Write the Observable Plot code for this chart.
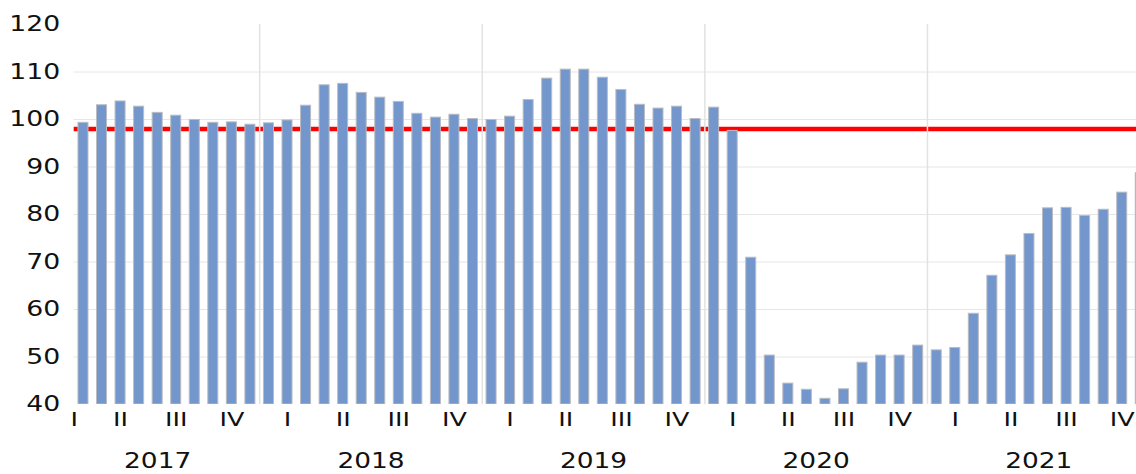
<!DOCTYPE html>
<html><head><meta charset="utf-8">
<script src="https://cdn.jsdelivr.net/npm/d3@7"></script>
<script src="https://cdn.jsdelivr.net/npm/@observablehq/plot@0.6"></script>
<style>
html,body{margin:0;padding:0;background:#fff;overflow:hidden}
</style></head><body><div id="chart"></div>
<script>
// Monthly index, categories from Feb 2017 (month index 1, Jan 2017 = 0) to Dec 2021
const years = [2017, 2018, 2019, 2020, 2021];
const quarterNames = ["I", "II", "III", "IV"];
const firstMonthIndex = 1;
const values2017 = [null, 99.3, 103.0, 103.8, 102.7, 101.4, 100.8, 99.9, 99.3, 99.4, 98.9];
const values2018 = [99.2, 99.8, 102.9, 107.2, 107.5, 105.6, 104.6, 103.7, 101.2, 100.4, 101.0, 100.1];
const values2019 = [99.9, 100.6, 104.1, 108.6, 110.5, 110.5, 108.8, 106.2, 103.1, 102.3, 102.7, 100.1];
const values2020 = [102.5, 97.6, 70.9, 50.3, 44.4, 43.1, 41.2, 43.2, 48.8, 50.3, 50.3, 52.4];
const values2021 = [51.4, 51.9, 59.1, 67.1, 71.4, 75.9, 81.3, 81.4, 79.7, 81.0, 84.6, 88.7];
const referenceLevel = 98;
const yTicks = [40, 50, 60, 70, 80, 90, 100, 110, 120];
const gridLevels = [50, 60, 70, 80, 90, 100, 110];

const values = [...values2017, ...values2018, ...values2019, ...values2020, ...values2021];
const rows = values.map((v, k) => {
  const i = k + firstMonthIndex;
  return {i, v, year: years[0] + Math.floor(i / 12), q: Math.floor((i % 12) / 3)};
});
const quarterRows = d3.rollups(rows, g => d3.mean(g, d => d.i), d => d.year, d => d.q)
  .flatMap(([year, qs]) => qs.map(([q, pos]) => ({pos, label: quarterNames[q]})));
const yearRows = d3.rollups(rows, g => d3.mean(g, d => d.i), d => d.year)
  .map(([year, pos]) => ({pos, label: String(year)}));
const yearBreaks = years.slice(1).map(y => (y - years[0]) * 12 - 0.5);

const chart = Plot.plot({
  width: 1136,
  height: 474,
  marginTop: 24,
  marginBottom: 70,
  marginLeft: 73.7,
  marginRight: 0,
  style: {fontFamily: "DejaVu Sans", fontSize: "21px", color: "#111", background: "#fff"},
  x: {type: "linear", domain: [1.5, 58.77], axis: null},
  y: {domain: [40, 120], ticks: yTicks, tickSize: 0, tickPadding: 14, label: null},
  marks: [
    Plot.ruleY(gridLevels, {stroke: "#e6e6e6", strokeWidth: 1}),
    Plot.ruleY([referenceLevel], {stroke: "#ff0000", strokeWidth: 4.5}),
    Plot.ruleX(yearBreaks, {y1: 40, y2: 120, stroke: "#e2e2e2", strokeWidth: 1.5}),
    Plot.rect(rows.filter(d => d.v != null), {
      x1: d => d.i - 0.27, x2: d => d.i + 0.27, y1: 40, y2: "v",
      fill: "#7396cc", stroke: "#b9bcc2", strokeWidth: 1, clip: true
    }),
    Plot.text(quarterRows, {x: "pos", text: "label", frameAnchor: "bottom", dy: 21, fontSize: 20, fill: "#111"}),
    Plot.text(yearRows, {x: "pos", text: "label", frameAnchor: "bottom", dy: 63, fontSize: 22, fill: "#111"})
  ]
});
document.getElementById("chart").appendChild(chart);

// widen glyphs to match the reference's broad lettering
chart.querySelectorAll("text").forEach(t => {
  const len = t.getComputedTextLength();
  if (len > 0) {
    const f = /^\d{4}$/.test(t.textContent.trim()) ? 1.2 : 1.27;
    t.setAttribute("textLength", (len * f).toFixed(1));
    t.setAttribute("lengthAdjust", "spacingAndGlyphs");
  }
});
</script></body></html>
